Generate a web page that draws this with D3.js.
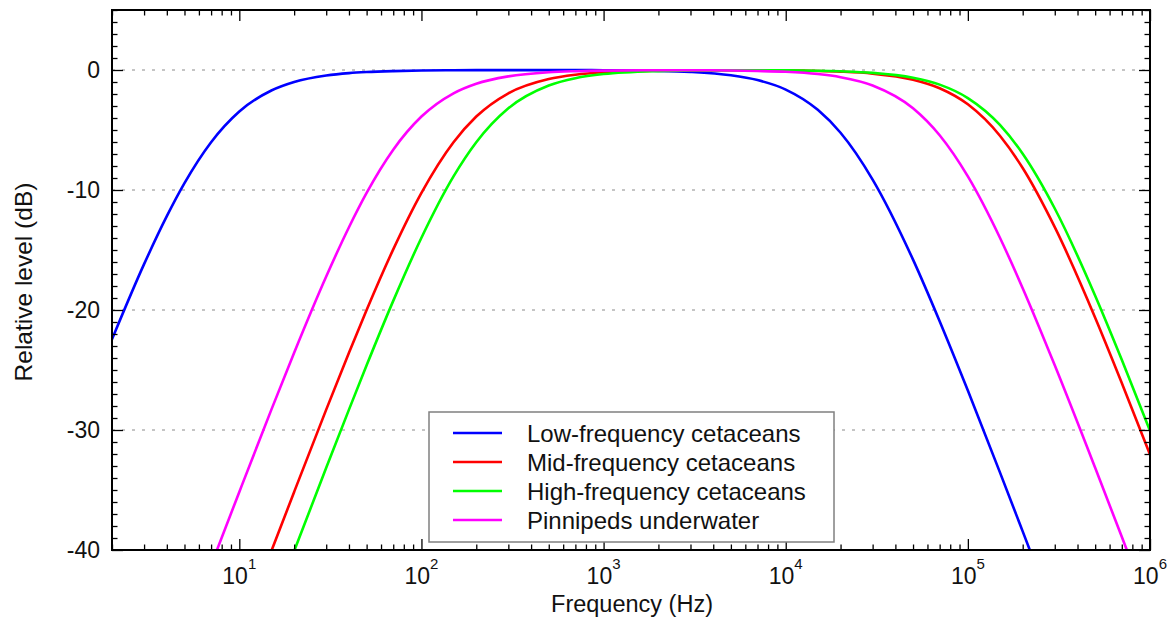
<!DOCTYPE html>
<html>
<head>
<meta charset="utf-8">
<script src="https://cdn.jsdelivr.net/npm/d3@7"></script>
<style>
  html, body { margin: 0; padding: 0; background: #fff; }
  svg { display: block; font-family: "Liberation Sans", Arial, Helvetica, sans-serif; }
</style>
</head>
<body>
<svg id="chart" width="1172" height="624"></svg>
<script>
// ---- data ----
const frequencies = [2,3,4,5,7,10,15,20,30,40,50,70,100,150,200,300,500,700,1000,2000,3000,5000,7000,10000,15000,20000,30000,50000,70000,100000,150000,200000,300000,500000,700000,1000000];
const lowFreqCetaceans = [-22.44,-16.18,-12.18,-9.43,-6.02,-3.46,-1.71,-1.00,-0.46,-0.26,-0.17,-0.09,-0.04,-0.02,-0.01,-0.01,-0.01,-0.01,-0.02,-0.07,-0.16,-0.44,-0.84,-1.63,-3.32,-5.23,-9.13,-15.80,-20.93,-26.71,-33.53,-38.45,-45.43,-54.28,-60.12,-66.31];
const midFreqCetaceans = [-75.00,-67.96,-62.97,-59.09,-53.26,-47.08,-40.09,-35.16,-28.30,-23.56,-20.00,-14.95,-10.24,-6.02,-3.88,-1.94,-0.75,-0.39,-0.19,-0.05,-0.02,-0.02,-0.02,-0.03,-0.08,-0.14,-0.30,-0.81,-1.52,-2.86,-5.48,-8.17,-13.10,-20.64,-26.08,-32.05];
const highFreqCetaceans = [-80.00,-72.96,-67.96,-64.09,-58.25,-52.06,-45.05,-40.09,-33.15,-28.30,-24.61,-19.24,-13.98,-8.87,-6.02,-3.19,-1.29,-0.68,-0.34,-0.09,-0.04,-0.02,-0.02,-0.03,-0.06,-0.11,-0.24,-0.65,-1.22,-2.34,-4.58,-6.98,-11.54,-18.81,-24.15,-30.07];
const pinnipedsUnderwater = [-62.97,-55.93,-50.94,-47.08,-41.27,-35.16,-28.30,-23.56,-17.21,-13.10,-10.24,-6.64,-3.88,-1.94,-1.14,-0.53,-0.19,-0.10,-0.05,-0.02,-0.02,-0.04,-0.08,-0.15,-0.34,-0.60,-1.29,-3.19,-5.44,-8.87,-13.98,-18.18,-24.61,-33.15,-38.90,-45.05];
const seriesNames = ["Low-frequency cetaceans","Mid-frequency cetaceans","High-frequency cetaceans","Pinnipeds underwater"];
const seriesColors = ["#0000ff","#ff0000","#00ff00","#ff00ff"];
const xMajorTicks = [10,100,1000,10000,100000,1000000];
const xTickExponents = ["1","2","3","4","5","6"];
const yMajorTicks = [0,-10,-20,-30,-40];
const yTickLabels = ["0","-10","-20","-30","-40"];
const xDomain = [2, 1000000];
const yDomain = [-40, 5];
const xTitle = "Frequency (Hz)";
const yTitle = "Relative level (dB)";

// ---- layout ----
const svg = d3.select("#chart");
const L = 112, R = 1150, T = 10, B = 550;
const x = d3.scaleLog().domain(xDomain).range([L, R]);
const y = d3.scaleLinear().domain(yDomain).range([B, T]);

const seriesValues = [lowFreqCetaceans, midFreqCetaceans, highFreqCetaceans, pinnipedsUnderwater];

// grid lines (dotted) at major y ticks
svg.append("g").selectAll("line").data(yMajorTicks.filter(v => v > yDomain[0]))
  .join("line")
  .attr("x1", L).attr("x2", R)
  .attr("y1", d => y(d)).attr("y2", d => y(d))
  .attr("stroke", "#8a8a8a").attr("stroke-width", 1)
  .attr("stroke-dasharray", "3,7");

// clip
svg.append("clipPath").attr("id", "clip")
  .append("rect").attr("x", L).attr("y", T).attr("width", R - L).attr("height", B - T);

const line = d3.line()
  .x((d, i) => x(frequencies[i]))
  .y(d => y(d))
  .curve(d3.curveMonotoneX);

svg.append("g").attr("clip-path", "url(#clip)")
  .selectAll("path").data(seriesValues).join("path")
  .attr("d", d => line(d))
  .attr("fill", "none")
  .attr("stroke", (d, i) => seriesColors[i])
  .attr("stroke-width", 2.6);

// ticks via d3 axes (inside ticks, mirrored)
const xMinor = [];
for (let e = 0; e <= 5; e++) for (let m = 2; m <= 9; m++) { const v = m * Math.pow(10, e); if (v >= xDomain[0] && v <= xDomain[1]) xMinor.push(v); }
const yMinor = d3.range(yDomain[0], yDomain[1] + 1, 1).filter(v => v % 10 !== 0);

function tickAxis(axisFn, scale, vals, size, transform) {
  const g = svg.append("g").attr("transform", transform)
    .call(axisFn(scale).tickValues(vals).tickSize(size).tickFormat(""));
  g.select(".domain").remove();
  g.selectAll("line").attr("stroke", "#000").attr("stroke-width", 1.3);
  return g;
}
// bottom
tickAxis(d3.axisTop, x, xMajorTicks, 11, `translate(0,${B})`);
tickAxis(d3.axisTop, x, xMinor, 5.5, `translate(0,${B})`);
// top
tickAxis(d3.axisBottom, x, xMajorTicks, 11, `translate(0,${T})`);
tickAxis(d3.axisBottom, x, xMinor, 5.5, `translate(0,${T})`);
// left
tickAxis(d3.axisRight, y, yMajorTicks, 11, `translate(${L},0)`);
tickAxis(d3.axisRight, y, yMinor, 5.5, `translate(${L},0)`);
// right
tickAxis(d3.axisLeft, y, yMajorTicks, 11, `translate(${R},0)`);
tickAxis(d3.axisLeft, y, yMinor, 5.5, `translate(${R},0)`);

// frame
svg.append("rect").attr("x", L).attr("y", T).attr("width", R - L).attr("height", B - T)
  .attr("fill", "none").attr("stroke", "#000").attr("stroke-width", 2);

// x tick labels 10^n
const xl = svg.append("g");
xMajorTicks.forEach((v, i) => {
  const t = xl.append("text").attr("x", x(v)).attr("y", 584)
    .attr("text-anchor", "middle").attr("font-size", 23).attr("fill", "#111");
  t.append("tspan").text("10");
  t.append("tspan").attr("dy", -15).attr("font-size", 15).text(xTickExponents[i]);
});

// y tick labels
svg.append("g").selectAll("text").data(yMajorTicks).join("text")
  .attr("x", 100).attr("y", d => y(d) + 8)
  .attr("text-anchor", "end").attr("font-size", 23).attr("fill", "#111")
  .text((d, i) => yTickLabels[i]);

// axis titles
svg.append("text").attr("x", (L + R) / 2 + 1).attr("y", 612)
  .attr("text-anchor", "middle").attr("font-size", 23.5).attr("fill", "#111").text(xTitle);
svg.append("text").attr("transform", "translate(32,282) rotate(-90)")
  .attr("text-anchor", "middle").attr("font-size", 24.5).attr("fill", "#111").text(yTitle);

// legend
const lg = svg.append("g");
lg.append("rect").attr("x", 429).attr("y", 412).attr("width", 405).attr("height", 130)
  .attr("fill", "#fff").attr("stroke", "#808080").attr("stroke-width", 1.5);
seriesNames.forEach((name, i) => {
  const yy = 433 + i * 29;
  lg.append("line").attr("x1", 453).attr("x2", 502).attr("y1", yy).attr("y2", yy)
    .attr("stroke", seriesColors[i]).attr("stroke-width", 2.6);
  lg.append("text").attr("x", 527).attr("y", yy + 8.5).attr("font-size", 24).attr("fill", "#111").text(name);
});
</script>
</body>
</html>
